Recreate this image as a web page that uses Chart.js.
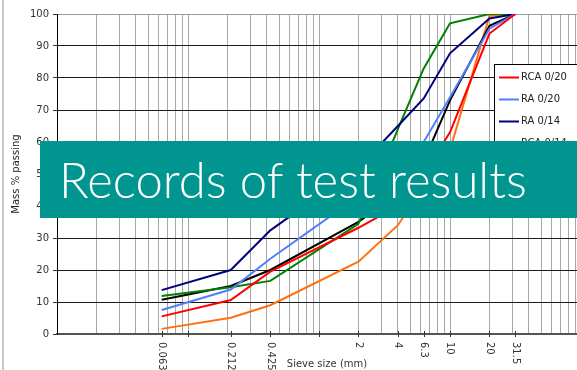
<!DOCTYPE html>
<html>
<head>
<meta charset="utf-8">
<script src="https://cdn.jsdelivr.net/npm/chart.js@4.4.1/dist/chart.umd.min.js"></script>
<style>
	html, body { margin: 0; padding: 0; background: #fff; overflow: hidden; width: 577px; height: 370px; }
	#wrap { position: absolute; left: 0; top: 0; width: 600px; height: 370px; }
	#frame { position: absolute; left: 2px; top: 0; width: 2px; height: 370px; background: #c8c8c8; }
	#banner {
		position: absolute; left: 40px; top: 141px; width: 560px; height: 77px;
		background: #00968f; color: #fff; box-sizing: border-box; padding-left: 19px;
		font-family: Lato, "Open Sans", sans-serif; font-weight: 300; font-size: 49px;
		line-height: 77px; white-space: nowrap;
	}
</style>
</head>
<body>
<div id="wrap"><canvas id="grading" width="600" height="370"></canvas></div>
<div id="frame"></div>
<div id="banner">Records of test results</div>
<script>
// Sieve sizes (mm) and % passing for each sample
const sieveSizes = [ 0.063, 0.212, 0.425, 2, 4, 6.3, 10, 20, 31.5 ];
const sieveLabels = [ '0.063', '0.212', '0.425', '2', '4', '6.3', '10', '20', '31.5' ];
const rca020 = [ 5.5, 10.6, 19.5, 33.2, 40, 50, 63, 93.9, 100 ];
const ra020 = [ 7.5, 13.9, 23.5, 43, 51, 60, 74, 95.4, 100 ];
const ra014 = [ 13.7, 20, 32.4, 52, 65, 73.6, 87.7, 98.6, 100 ];
const rcaGreen = [ 11.9, 14.6, 16.6, 34.4, 64, 83, 97.1, 100, 100 ];
const rcaBlack = [ 10.7, 15, 20, 35, 44, 54, 73, 96.3, 100 ];
const rcaOrange = [ 1.6, 5.1, 9.0, 22.6, 34, 46, 57.5, 99.4, 100 ];
const seriesNames = [ 'RCA 0/20', 'RA 0/20', 'RA 0/14', 'RCA 0/14', 'RCA 0/10', 'RA 0/10' ];
const yTicks = [ 0, 10, 20, 30, 40, 50, 60, 70, 80, 90, 100 ];

const FONT = 'DejaVu Sans';

// minor log grid: 1..9 of every decade from 0.01 to 100
const logGrid = [];
for ( let d = 0.01; d < 100; d *= 10 ) {
	for ( let m = 1; m < 10; m++ ) {
		logGrid.push( +( m * d ).toPrecision( 3 ) );
	}
}
logGrid.push( 100 );

function toPoints( values ) {
	return sieveSizes.map( ( s, i ) => ( { x: s, y: values[ i ] } ) );
}

function makeSet( name, values, color ) {
	return { label: name, data: toPoints( values ), borderColor: color, backgroundColor: color };
}

// x labels are written top to bottom, plus the legend box inside the plot
const sievePlugin = {
	id: 'sieveAxis',
	afterDraw: function ( chart ) {
		const ctx = chart.ctx;
		const xs = chart.scales.x;
		const area = chart.chartArea;
		ctx.save();
		ctx.strokeStyle = '#333';
		ctx.lineWidth = 1;
		const marks = sieveSizes.concat( [ 0.1, 1 ] );
		marks.forEach( function ( v ) {
			const px = Math.round( xs.getPixelForValue( v ) ) + 0.5;
			ctx.beginPath();
			ctx.moveTo( px, area.bottom - 3 );
			ctx.lineTo( px, area.bottom + 3 );
			ctx.stroke();
		} );
		ctx.fillStyle = '#333';
		ctx.font = '10px "' + FONT + '"';
		ctx.textAlign = 'left';
		ctx.textBaseline = 'middle';
		sieveSizes.forEach( function ( v, i ) {
			ctx.save();
			ctx.translate( xs.getPixelForValue( v ), area.bottom + 8 );
			ctx.rotate( Math.PI / 2 );
			ctx.fillText( sieveLabels[ i ], 0, 0 );
			ctx.restore();
		} );
		ctx.textAlign = 'center';
		ctx.fillText( 'Sieve size (mm)', ( area.left + area.right ) / 2 + 8, area.bottom + 30 );

		// legend
		const lx = area.right - 87;
		const ly = 64;
		ctx.fillStyle = '#fff';
		ctx.fillRect( lx, ly, 120, chart.data.datasets.length * 22 + 12 );
		ctx.strokeStyle = '#000';
		ctx.strokeRect( lx + 0.5, ly + 0.5, 120, chart.data.datasets.length * 22 + 12 );
		ctx.textAlign = 'left';
		chart.data.datasets.forEach( function ( ds, i ) {
			const ty = ly + 13.5 + i * 22;
			ctx.strokeStyle = ds.borderColor;
			ctx.lineWidth = 2;
			ctx.beginPath();
			ctx.moveTo( lx + 5, ty );
			ctx.lineTo( lx + 25, ty );
			ctx.stroke();
			ctx.fillStyle = '#222';
			ctx.fillText( ds.label, lx + 27, ty );
		} );
		ctx.restore();
	}
};

new Chart( document.getElementById( 'grading' ), {
	type: 'line',
	data: {
		datasets: [
			makeSet( seriesNames[ 0 ], rca020, '#ff0000' ),
			makeSet( seriesNames[ 1 ], ra020, '#4f7fff' ),
			makeSet( seriesNames[ 2 ], ra014, '#00007f' ),
			makeSet( seriesNames[ 3 ], rcaGreen, '#008000' ),
			makeSet( seriesNames[ 4 ], rcaBlack, '#000000' ),
			makeSet( seriesNames[ 5 ], rcaOrange, '#ff7010' )
		]
	},
	options: {
		responsive: false,
		animation: false,
		layout: { padding: { left: 0, right: 19, top: 14, bottom: 0 } },
		elements: {
			point: { radius: 0 },
			line: { borderWidth: 2, tension: 0 }
		},
		plugins: {
			legend: { display: false },
			tooltip: { enabled: false }
		},
		scales: {
			x: {
				type: 'logarithmic',
				min: 0.01,
				max: 100,
				afterBuildTicks: function ( scale ) {
					scale.ticks = logGrid.map( ( v ) => ( { value: v } ) );
				},
				afterFit: function ( scale ) {
					scale.height = 36;
				},
				ticks: { display: false },
				grid: { color: '#a8a8a8', lineWidth: 1, drawTicks: false },
				border: { color: '#555', width: 2 }
			},
			y: {
				min: 0,
				max: 100,
				afterBuildTicks: function ( scale ) {
					scale.ticks = yTicks.map( ( v ) => ( { value: v } ) );
				},
				afterFit: function ( scale ) {
					scale.width = 57;
				},
				ticks: { color: '#333', padding: 4, font: { family: FONT, size: 10 } },
				grid: {
					color: ( c ) => c.tick && c.tick.value === 100 ? '#9a9a9a' : '#1a1a1a',
					tickLength: 4,
					tickColor: '#333'
				},
				border: { color: '#000', width: 1 },
				title: {
					display: true,
					text: 'Mass % passing',
					color: '#222',
					padding: { top: 10 },
					font: { family: FONT, size: 10 }
				}
			}
		}
	},
	plugins: [ sievePlugin ]
} );
</script>
</body>
</html>
